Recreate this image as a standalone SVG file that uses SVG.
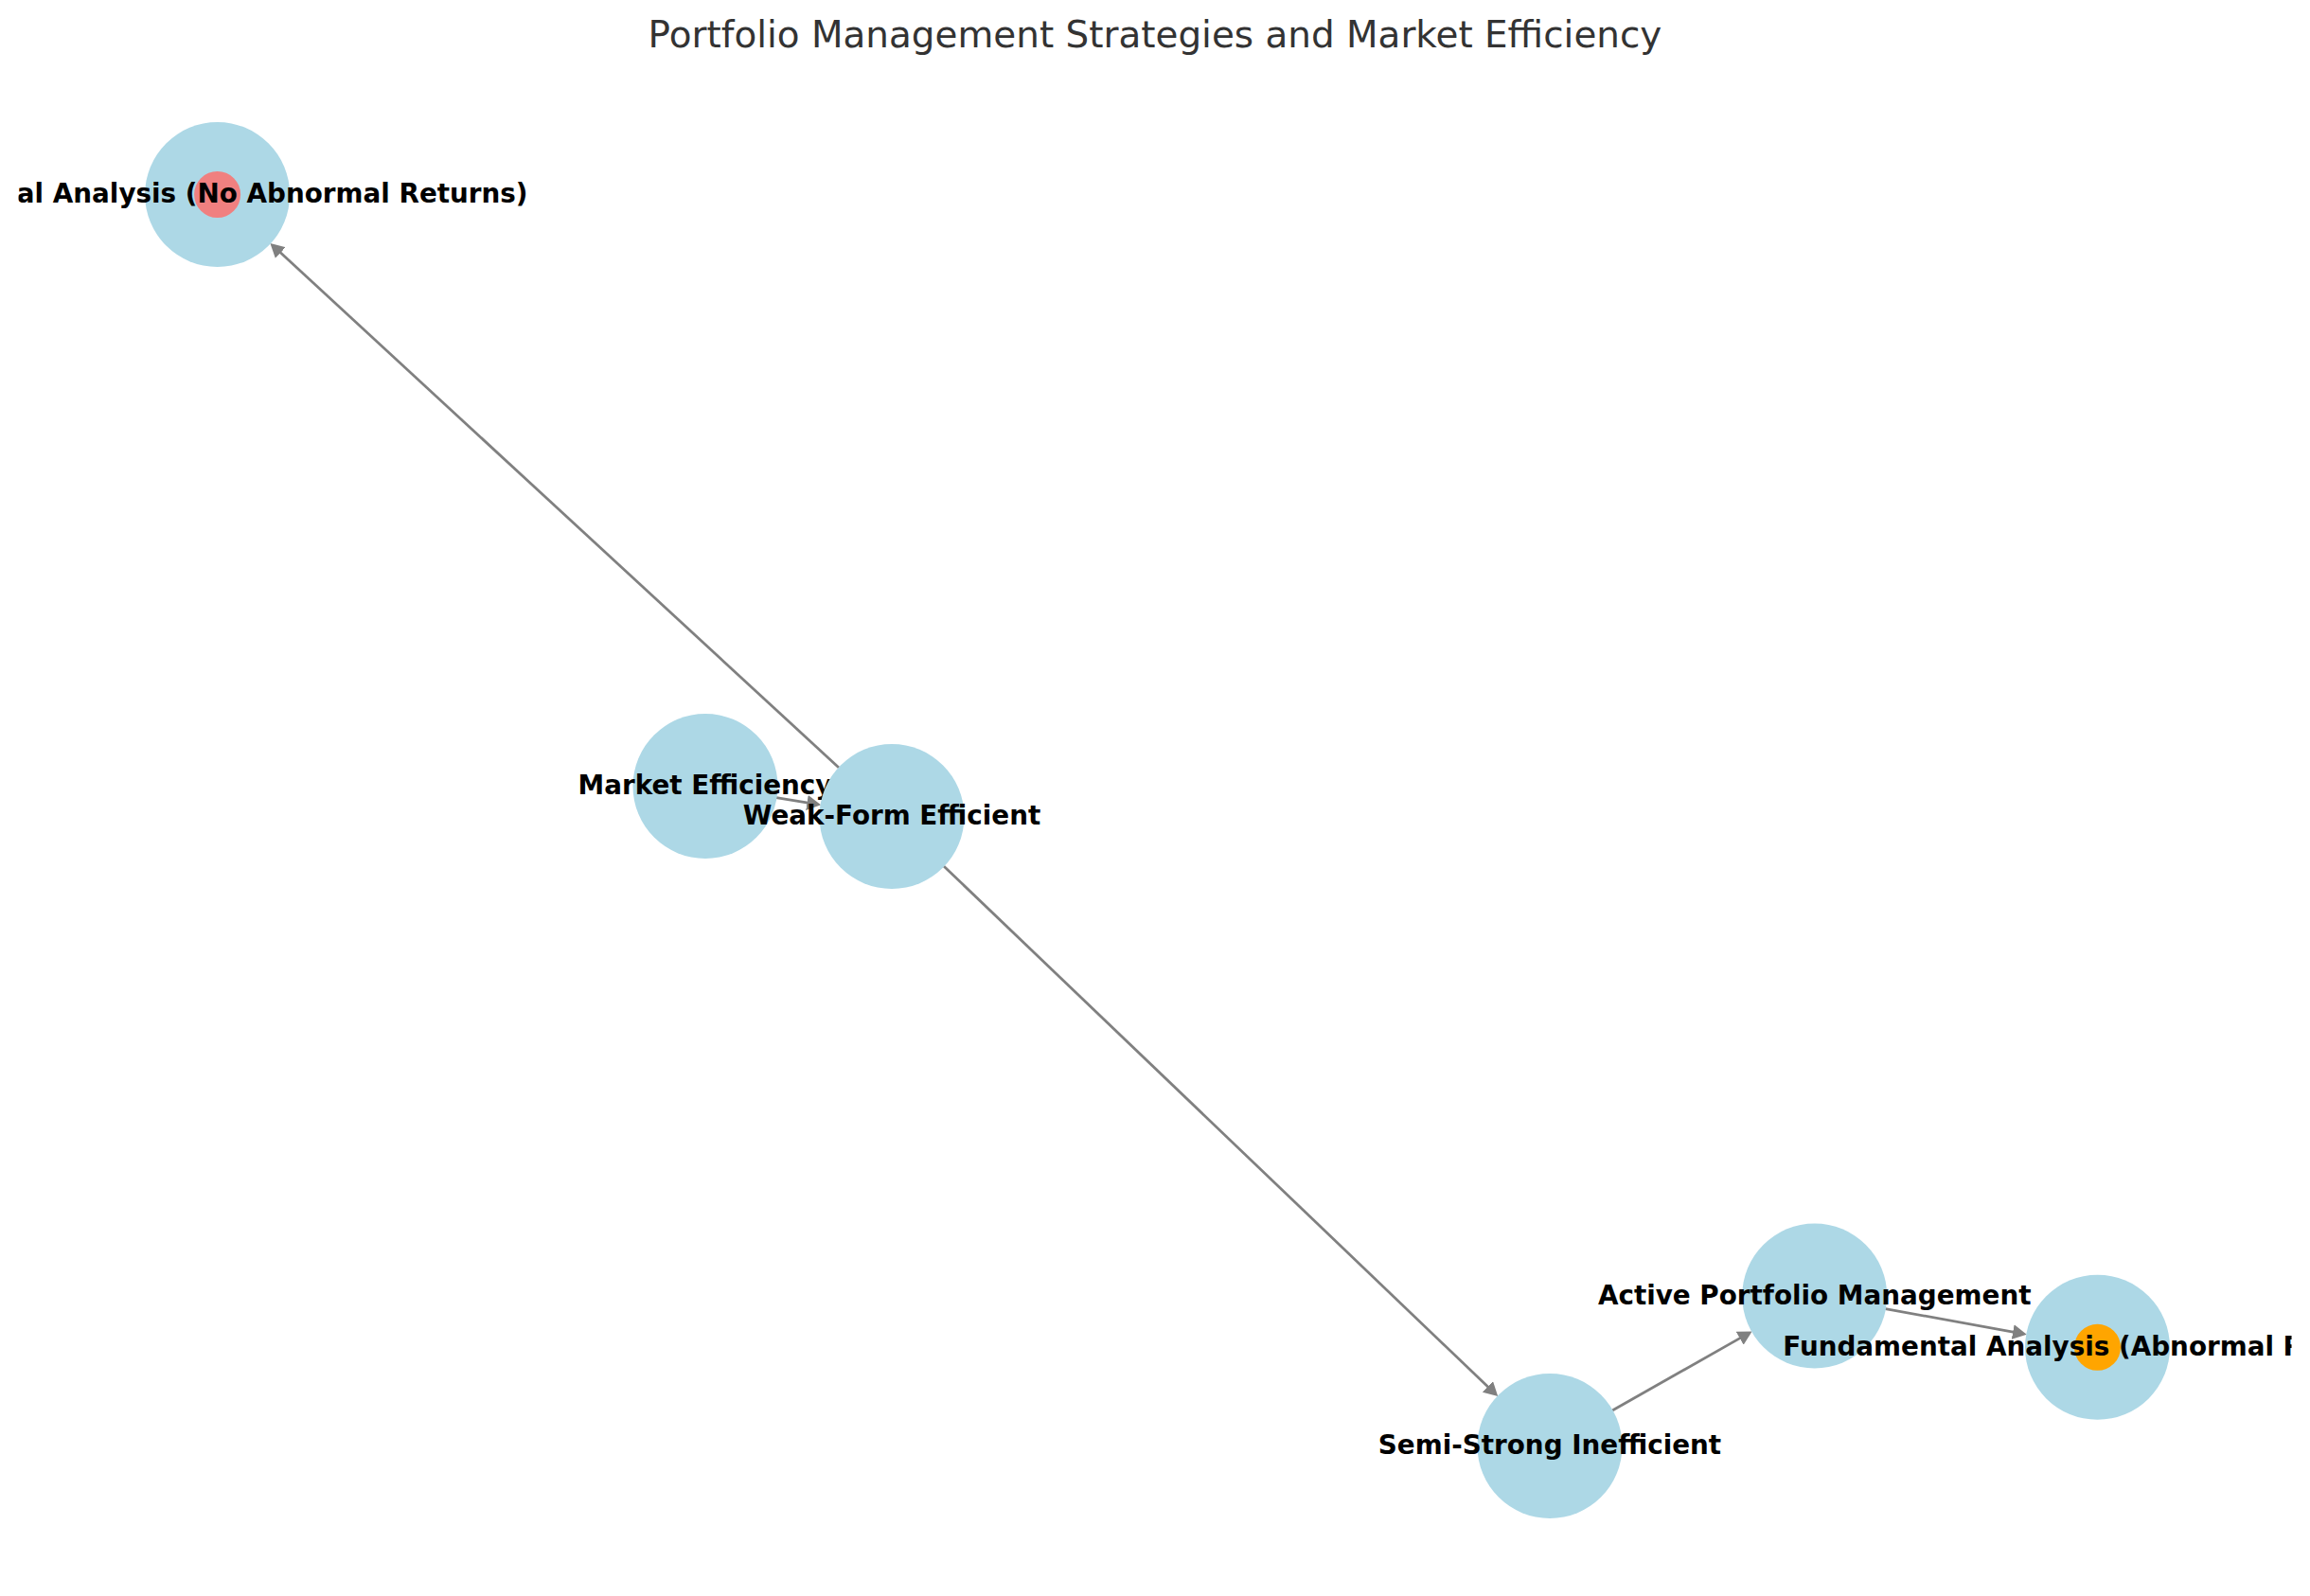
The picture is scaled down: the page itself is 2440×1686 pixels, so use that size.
<svg xmlns="http://www.w3.org/2000/svg" width="2440" height="1686" viewBox="0 0 2440 1686">
<style>
.bg{fill:#ffffff}
.title{font-family:"DejaVu Sans","Liberation Sans",sans-serif;font-size:38.9px;fill:#333333;text-anchor:middle}
.node{fill:#ADD8E6}
.lbl{font-family:"DejaVu Sans","Liberation Sans",sans-serif;font-size:27.8px;font-weight:bold;fill:#000000;text-anchor:middle}
.edge{stroke:#808080;stroke-width:2.78;fill:none;marker-end:url(#arr)}
</style>
<defs>
<marker id="arr" markerUnits="userSpaceOnUse" markerWidth="16" markerHeight="16" viewBox="0 0 14 14" refX="5" refY="7" orient="auto">
<path d="M0,0 L13,7 L0,14 z" fill="#808080"/>
</marker>
<clipPath id="axclip">
<rect x="19.5" y="0" width="2401" height="1686"/>
</clipPath>
</defs>
<rect class="bg" x="0" y="0" width="2440" height="1686"/>
<text class="title" x="1220" y="50">Portfolio Management Strategies and Market Efficiency</text>
<g id="connectors">
<line class="edge" x1="886.1" y1="811.0" x2="292.1" y2="263.1"/>
<line class="edge" x1="820" y1="842.7" x2="858.1" y2="848.9"/>
<line class="edge" x1="996.9" y1="915.0" x2="1575.6" y2="1468.8"/>
<line class="edge" x1="1703.1" y1="1490.0" x2="1842.7" y2="1410.9"/>
<line class="edge" x1="1991.5" y1="1382.6" x2="2131.8" y2="1408.1"/>
</g>
<g id="node-technical">
<circle class="node" cx="229.6" cy="205.5" r="76.5"/>
<circle cx="229.6" cy="205.5" r="24.5" fill="#F08080"/>
<text class="lbl" x="229.6" y="214" clip-path="url(#axclip)">Technical Analysis (No Abnormal Returns)</text>
</g>
<g id="node-market">
<circle class="node" cx="745" cy="830.5" r="76.5"/>
<text class="lbl" x="745" y="839">Market Efficiency</text>
</g>
<g id="node-weak">
<circle class="node" cx="942" cy="862.5" r="76.5"/>
<text class="lbl" x="942" y="871">Weak-Form Efficient</text>
</g>
<g id="node-semistrong">
<circle class="node" cx="1637" cy="1527.5" r="76.5"/>
<text class="lbl" x="1637" y="1536">Semi-Strong Inefficient</text>
</g>
<g id="node-active">
<circle class="node" cx="1916.7" cy="1369" r="76.5"/>
<text class="lbl" x="1916.7" y="1377.5">Active Portfolio Management</text>
</g>
<g id="node-fundamental">
<circle class="node" cx="2215.5" cy="1423.3" r="76.5"/>
<circle cx="2215.5" cy="1423.3" r="24.5" fill="#FFA500"/>
<text class="lbl" x="2215.5" y="1432" clip-path="url(#axclip)">Fundamental Analysis (Abnormal Returns)</text>
</g>
</svg>
